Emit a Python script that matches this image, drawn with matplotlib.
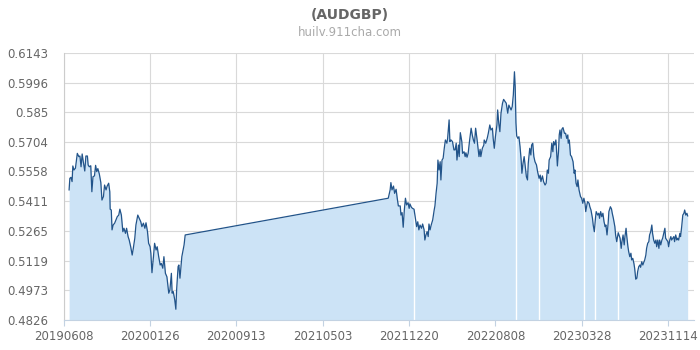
import numpy as np
import pandas as pd
import matplotlib
matplotlib.use("Agg")
import matplotlib.pyplot as plt
import matplotlib.dates as mdates

title = "(AUDGBP)"
subtitle = "huilv.911cha.com"
start_date = "2019-06-08"

# day offsets from start_date
day_offsets = [
    15, 17, 20, 23, 25, 28, 32, 37, 41, 44,
    47, 50, 53, 57, 60, 64, 66, 69, 73, 76,
    79, 83, 86, 89, 92, 96, 100, 103, 107, 110,
    114, 117, 121, 124, 125, 128, 130, 133, 137, 141,
    144, 148, 151, 155, 159, 162, 166, 169, 173, 176,
    180, 184, 187, 191, 194, 199, 203, 207, 210, 214,
    218, 221, 225, 228, 232, 234, 237, 241, 244, 248,
    251, 255, 259, 262, 266, 269, 273, 277, 280, 282,
    285, 289, 291, 294, 298, 301, 303, 307, 309, 312,
    317, 323, 326,
    870, 875, 877, 880, 884, 887, 891, 894, 897, 902,
    904, 907, 910, 913, 916, 919, 923, 926, 928, 932,
    935, 939, 942, 946, 949, 952, 955, 959, 962, 966,
    968, 971, 974, 977, 979, 982, 985, 989, 993, 995,
    998, 1001, 1003, 1006, 1009, 1011, 1014, 1017, 1020, 1023,
    1027, 1029, 1033, 1035, 1038, 1042, 1046, 1049, 1052, 1054,
    1058, 1060, 1063, 1067, 1069, 1073, 1076, 1078, 1081, 1084,
    1088, 1092, 1095, 1098, 1101, 1104, 1108, 1111, 1113, 1116,
    1118, 1122, 1126, 1127, 1131, 1135, 1138, 1142, 1145, 1149,
    1151, 1154, 1157, 1161, 1163, 1166, 1169, 1172, 1176, 1179,
    1183, 1186, 1190, 1193, 1195, 1199, 1202, 1205, 1208, 1210,
    1212, 1214, 1217, 1220, 1223, 1226, 1228, 1231, 1234, 1237,
    1240, 1243, 1245, 1249, 1252, 1254, 1257, 1260, 1263, 1267,
    1270, 1274, 1277, 1279, 1283, 1286, 1290, 1293, 1296, 1299,
    1301, 1305, 1308, 1311, 1313, 1316, 1319, 1320, 1323, 1326,
    1328, 1330, 1333, 1335, 1338, 1342, 1345, 1348, 1351, 1352,
    1355, 1358, 1361, 1365, 1368, 1370, 1373, 1376, 1378, 1381,
    1385, 1388, 1391, 1394, 1397, 1399, 1402, 1404, 1408, 1410,
    1413, 1417, 1419, 1422, 1425, 1427, 1431, 1434, 1436, 1439,
    1442, 1445, 1448, 1451, 1453, 1456, 1459, 1461, 1465, 1468,
    1470, 1473, 1477, 1479, 1482, 1486, 1488, 1491, 1494, 1496,
    1499, 1502, 1504, 1507, 1509, 1512, 1514, 1517, 1520, 1522,
    1525, 1528, 1530, 1533, 1536, 1538, 1541, 1544, 1546, 1549,
    1552, 1554, 1557, 1560, 1562, 1565, 1568, 1570, 1573, 1576,
    1578, 1581, 1584, 1587, 1589, 1592, 1595, 1597, 1600, 1603,
    1605, 1608, 1611, 1613, 1616, 1619, 1621, 1624, 1627, 1629,
    1632, 1635, 1637, 1640, 1643, 1645, 1648, 1651, 1653, 1656,
    1659, 1662, 1664, 1667, 1670, 1672,
]

rates = [
    0.5467, 0.5524, 0.5529, 0.5508, 0.5585, 0.5565, 0.5574, 0.5647, 0.5631, 0.5634,
    0.5581, 0.5644, 0.5606, 0.5560, 0.5634, 0.5634, 0.5590, 0.5581, 0.5586, 0.5458,
    0.5532, 0.5536, 0.5588, 0.5557, 0.5572, 0.5545, 0.5503, 0.5417, 0.5434, 0.5491,
    0.5467, 0.5486, 0.5500, 0.5458, 0.5372, 0.5368, 0.5270, 0.5294, 0.5303, 0.5322,
    0.5335, 0.5343, 0.5372, 0.5343, 0.5261, 0.5278, 0.5253, 0.5278, 0.5237, 0.5220,
    0.5187, 0.5146, 0.5179, 0.5229, 0.5294, 0.5343, 0.5327, 0.5310, 0.5286, 0.5303,
    0.5278, 0.5305, 0.5261, 0.5204, 0.5187, 0.5155, 0.5059, 0.5138, 0.5204, 0.5171,
    0.5187, 0.5138, 0.5097, 0.5105, 0.5081, 0.5138, 0.5056, 0.5039, 0.4990, 0.4958,
    0.4974, 0.5056, 0.4958, 0.4966, 0.4925, 0.4879, 0.4974, 0.5089, 0.5097, 0.5032,
    0.5138, 0.5196, 0.5245,
    0.5426, 0.5467, 0.5503, 0.5467, 0.5486, 0.5450, 0.5470, 0.5426, 0.5388, 0.5388,
    0.5343, 0.5355, 0.5283, 0.5368, 0.5426, 0.5393, 0.5404, 0.5376, 0.5398, 0.5381,
    0.5376, 0.5372, 0.5335, 0.5286, 0.5310, 0.5270, 0.5294, 0.5278, 0.5299, 0.5270,
    0.5220, 0.5245, 0.5261, 0.5237, 0.5299, 0.5270, 0.5294, 0.5319, 0.5368, 0.5388,
    0.5450, 0.5500, 0.5614, 0.5565, 0.5606, 0.5516, 0.5614, 0.5623, 0.5672, 0.5713,
    0.5697, 0.5721, 0.5812, 0.5705, 0.5713, 0.5705, 0.5664, 0.5664, 0.5697, 0.5614,
    0.5688, 0.5631, 0.5749, 0.5705, 0.5647, 0.5655, 0.5631, 0.5650, 0.5628, 0.5647,
    0.5713, 0.5771, 0.5738, 0.5713, 0.5697, 0.5771, 0.5713, 0.5664, 0.5631, 0.5667,
    0.5631, 0.5672, 0.5688, 0.5713, 0.5697, 0.5721, 0.5746, 0.5787, 0.5762, 0.5771,
    0.5721, 0.5672, 0.5729, 0.5787, 0.5861, 0.5795, 0.5754, 0.5845, 0.5894, 0.5913,
    0.5902, 0.5894, 0.5845, 0.5885, 0.5877, 0.5861, 0.5877, 0.5935, 0.6049, 0.5976,
    0.5798, 0.5733, 0.5721, 0.5729, 0.5680, 0.5614, 0.5549, 0.5598, 0.5631, 0.5581,
    0.5532, 0.5516, 0.5598, 0.5672, 0.5639, 0.5688, 0.5697, 0.5631, 0.5606, 0.5590,
    0.5557, 0.5524, 0.5540, 0.5508, 0.5536, 0.5508, 0.5491, 0.5500, 0.5565, 0.5549,
    0.5614, 0.5631, 0.5697, 0.5655, 0.5705, 0.5688, 0.5713, 0.5688, 0.5585, 0.5655,
    0.5738, 0.5762, 0.5721, 0.5766, 0.5774, 0.5746, 0.5746, 0.5721, 0.5738, 0.5697,
    0.5713, 0.5639, 0.5631, 0.5606, 0.5549, 0.5565, 0.5500, 0.5483, 0.5516, 0.5467,
    0.5434, 0.5426, 0.5401, 0.5426, 0.5401, 0.5360, 0.5393, 0.5409, 0.5401, 0.5384,
    0.5368, 0.5327, 0.5294, 0.5261, 0.5327, 0.5360, 0.5343, 0.5352, 0.5327, 0.5360,
    0.5335, 0.5352, 0.5310, 0.5286, 0.5294, 0.5245, 0.5303, 0.5360, 0.5384, 0.5373,
    0.5352, 0.5327, 0.5286, 0.5245, 0.5212, 0.5256, 0.5245, 0.5229, 0.5179, 0.5212,
    0.5245, 0.5196, 0.5237, 0.5278, 0.5237, 0.5187, 0.5163, 0.5138, 0.5155, 0.5122,
    0.5130, 0.5105, 0.5081, 0.5027, 0.5032, 0.5064, 0.5089, 0.5097, 0.5086, 0.5113,
    0.5097, 0.5108, 0.5122, 0.5146, 0.5179, 0.5204, 0.5212, 0.5245, 0.5261, 0.5294,
    0.5253, 0.5220, 0.5204, 0.5220, 0.5187, 0.5220, 0.5179, 0.5220, 0.5196, 0.5220,
    0.5229, 0.5253, 0.5278, 0.5229, 0.5220, 0.5212, 0.5187, 0.5220, 0.5237, 0.5220,
    0.5229, 0.5237, 0.5212, 0.5245, 0.5220, 0.5229, 0.5220, 0.5253, 0.5237, 0.5286,
    0.5343, 0.5352, 0.5368, 0.5343, 0.5352, 0.5339,
]

# short missing-data gaps visible as white slits in the area fill
gap_offsets = [940, 1213, 1274, 1394, 1425, 1486]

x_tick_labels = ["20190608", "20200126", "20200913", "20210503",
                 "20211220", "20220808", "20230328", "20231114"]
y_ticks = [0.4826, 0.4973, 0.5119, 0.5265, 0.5411, 0.5558, 0.5704, 0.585, 0.5996, 0.6143]
x_end_offset = 1689

start = pd.Timestamp(start_date)
dates = start + pd.to_timedelta(day_offsets, unit="D")
xnum = mdates.date2num(dates)
vals = np.array(rates)

fig = plt.figure(figsize=(7, 3.5), dpi=100)
ax = fig.add_axes([63.5 / 700, 1 - 320 / 350, (694 - 63.5) / 700, (320 - 52.7) / 350])

line_color = "#22548a"
fill_color = "#cce3f6"
grid_color = "#d9d9d9"

ax.fill_between(xnum, y_ticks[0], vals, color=fill_color, lw=0, zorder=1)
gap_x = mdates.date2num(start + pd.to_timedelta(gap_offsets, unit="D"))
ax.vlines(gap_x, y_ticks[0], np.interp(gap_x, xnum, vals) - 0.0008,
          color="white", lw=1.0, zorder=2)
ax.plot(xnum, vals, color=line_color, lw=0.9, zorder=3)

xt = mdates.date2num(pd.to_datetime(x_tick_labels, format="%Y%m%d"))
ax.set_xticks(xt)
ax.set_xticklabels(x_tick_labels)
ax.set_yticks(y_ticks)
ax.set_yticklabels([f"{v:g}" for v in y_ticks])
ax.set_xlim(mdates.date2num(start), mdates.date2num(start + pd.Timedelta(days=x_end_offset)))
ax.set_ylim(y_ticks[0], y_ticks[-1])

ax.grid(True, color=grid_color, lw=0.8, zorder=0)
ax.set_axisbelow(True)
for s in ["top", "right"]:
    ax.spines[s].set_visible(False)
ax.spines["left"].set_color("#cccccc")
ax.spines["left"].set_linewidth(0.8)
ax.spines["bottom"].set_color("#c3d2e2")
ax.spines["bottom"].set_linewidth(0.8)
ax.tick_params(axis="x", length=4, width=0.8, color="#c3d2e2", pad=3,
               labelsize=8.5, labelcolor="#666666")
ax.tick_params(axis="y", length=0, pad=11, labelsize=8.5, labelcolor="#666666")

fig.text(0.5, 1 - 15 / 350, title, ha="center", va="center",
         fontsize=10, fontweight="bold", color="#666666")
fig.text(0.5, 1 - 33 / 350, subtitle, ha="center", va="center",
         fontsize=8.5, color="#aaaaaa")

fig.savefig("out.png", dpi=100)
